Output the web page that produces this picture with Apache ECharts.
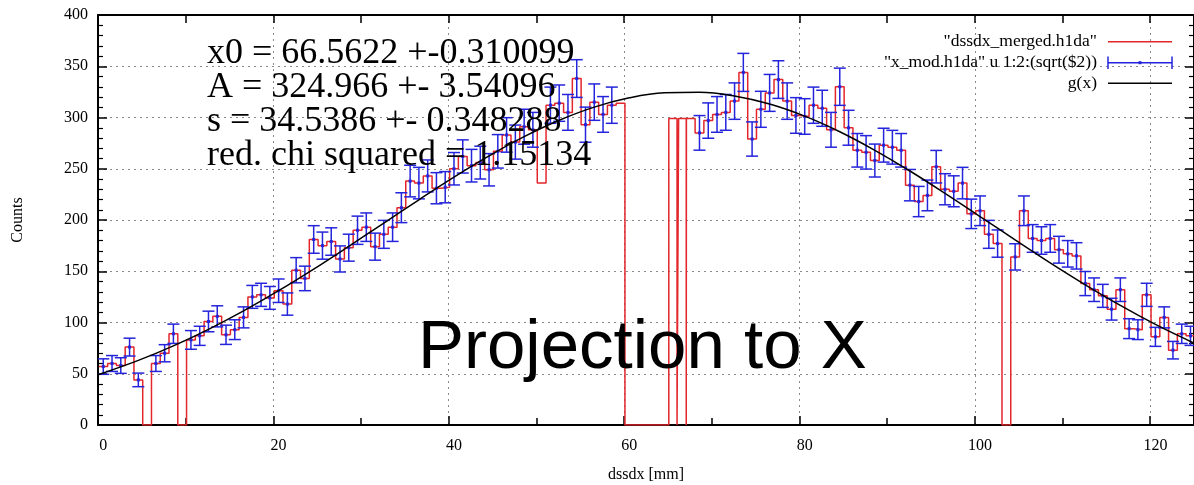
<!DOCTYPE html>
<html><head><meta charset="utf-8">
<script src="https://cdn.jsdelivr.net/npm/echarts@6/dist/echarts.min.js"></script>
<style>html,body{margin:0;padding:0;background:#fff;}#c{width:1194px;height:485px;}</style>
</head><body><div id="c"></div>
<script>
// ---------------- data ----------------
const binX = [0,1,2,3,4,5,6,7,8,9,10,11,12,13,14,15,16,17,18,19,20,21,22,23,24,25,26,27,28,29,
  30,31,32,33,34,35,36,37,38,39,40,41,42,43,44,45,46,47,48,49,50,51,52,53,54,55,56,57,58,59,
  60,61,62,63,64,65,66,67,68,69,70,71,72,73,74,75,76,77,78,79,80,81,82,83,84,85,86,87,88,89,
  90,91,92,93,94,95,96,97,98,99,100,101,102,103,104,105,106,107,108,109,110,111,112,113,114,115,116,117,118,119,
  120,121,122,123,124];
const counts = [57,60,58,76,44,0,60,70,89,0,
  83,87,101,106,88,93,105,125,127,124,
  131,118,151,143,181,175,179,162,173,190,
  193,174,186,193,212,238,236,243,231,232,
  250,262,253,256,249,267,283,276,291,288,
  236,312,314,305,338,293,315,303,312,314,
  0,0,0,0,0,299,299,299,285,297,
  303,305,316,344,279,308,324,337,316,302,
  301,312,309,288,330,290,268,266,258,273,
  271,268,234,218,224,252,230,228,236,206,
  209,186,177,0,164,209,182,180,182,171,
  167,165,138,132,126,113,132,94,93,127,
  86,105,73,89,87];
// bins that are absent from the "x_mod" (error bar) file
const noErrorBins = [5,9,50,59,60,61,62,63,64,65,66,67,103];
// narrow zero dips drawn by the red histogram (x ranges, mm)
const redZeroDips = [[65.44,65.62],[66.49,66.51]];
// fitted curve g(x)
const fitX = [-0.6,0,4,8,12,16,20,24,28,32,36,40,44,48,52,56,60,64,68,72,76,80,84,88,92,96,100,104,108,112,116,120,124,124.4];
const fitY = [49.1,50.7,63.0,77.2,93.3,111.3,131.0,152.1,174.3,197.0,219.7,241.8,262.5,281.3,297.3,310.1,319.2,324.1,324.7,321.0,313.1,301.3,286.1,268.0,247.8,226.0,203.4,180.6,158.2,136.8,116.7,98.2,81.5,80.0];
const xTickLabels = [0,20,40,60,80,100,120];
const yTickLabels = [0,50,100,150,200,250,300,350,400];
const fitText = ['x0 = 66.5622 +-0.310099','A = 324.966 +- 3.54096','s = 34.5386 +- 0.348288','red. chi squared = 1.15134'];
const legendNames = ['"dssdx_merged.h1da"','"x_mod.h1da" u 1:2:(sqrt($2))','g(x)'];
const titleText = 'Projection to X';

// ---------------- build ----------------
const RED = '#e3262b', BLUE = '#2424dc', BLACK = '#000';
const binWidth = 1;
let segs = binX.map((x,i)=>[x-binWidth/2, x+binWidth/2, counts[i]]);
redZeroDips.forEach(([a,b])=>{
  const out=[];
  segs.forEach(s=>{
    const lo=Math.max(s[0],a), hi=Math.min(s[1],b);
    if (lo<hi) {
      if (lo>s[0]) out.push([s[0],lo,s[2]]);
      out.push([lo,hi,0]);
      if (hi<s[1]) out.push([hi,s[1],s[2]]);
    } else out.push(s);
  });
  segs=out;
});
const redPts = [];
segs.forEach(s=>{ redPts.push([s[0],s[2]]); redPts.push([s[1],s[2]]); });

const errData = [];
binX.forEach((x,i)=>{ if(!noErrorBins.includes(x)) errData.push([x, counts[i], Math.sqrt(counts[i])]); });
const fitPts = fitX.map((x,i)=>[x, fitY[i]]);

const XMIN=-0.6, XMAX=124.4;
const serif='"Liberation Serif","DejaVu Serif",serif';
const dotted={color:'#8a8a8a', width:1, type:[2,4]};
const axisLineStyle={show:true, onZero:false, lineStyle:{color:'#000', width:2}};

const chart = echarts.init(document.getElementById('c'), null, {renderer:'canvas'});
const option = {
  animation:false,
  backgroundColor:'#fff',
  grid:{left:98, right:0, top:15, bottom:60, containLabel:false, outerBoundsMode:'none'},
  xAxis:[
    {type:'value', min:XMIN, max:XMAX, interval:20, position:'bottom',
     axisLine:axisLineStyle,
     axisTick:{inside:true, length:9, lineStyle:{color:'#000', width:1.5}},
     axisLabel:{show:true, customValues:xTickLabels, color:'#000', fontFamily:serif, fontSize:16, margin:13,
       showMinLabel:true, showMaxLabel:true, hideOverlap:false},
     splitLine:{show:true, lineStyle:dotted},
     name:'dssdx [mm]', nameLocation:'middle', nameGap:42,
     nameTextStyle:{color:'#000', fontFamily:serif, fontSize:16}},
    {type:'value', min:XMIN, max:XMAX, interval:10, position:'bottom',
     axisLine:{show:false}, axisTick:{inside:true, length:7, lineStyle:{color:'#000', width:1.5}},
     axisLabel:{show:false}, splitLine:{show:false}},
    {type:'value', min:XMIN, max:XMAX, interval:10, position:'top',
     axisLine:axisLineStyle, axisTick:{inside:true, length:8, lineStyle:{color:'#000', width:1.5}},
     axisLabel:{show:false}, splitLine:{show:false}}
  ],
  yAxis:[
    {type:'value', min:yTickLabels[0], max:yTickLabels[yTickLabels.length-1], interval:50, position:'left',
     axisLine:axisLineStyle,
     axisTick:{inside:true, length:9, lineStyle:{color:'#000', width:1.5}},
     minorTick:{show:true, splitNumber:5, length:5, lineStyle:{color:'#000', width:1.2}},
     axisLabel:{color:'#000', fontFamily:serif, fontSize:16, margin:10},
     splitLine:{show:true, lineStyle:dotted},
     name:'Counts', nameLocation:'middle', nameGap:72,
     nameTextStyle:{color:'#000', fontFamily:serif, fontSize:16}},
    {type:'value', min:yTickLabels[0], max:yTickLabels[yTickLabels.length-1], interval:50, position:'right',
     axisLine:axisLineStyle,
     axisTick:{inside:true, length:9, lineStyle:{color:'#000', width:1.5}},
     minorTick:{show:true, splitNumber:5, length:5, lineStyle:{color:'#000', width:1.2}},
     axisLabel:{show:false}, splitLine:{show:false}}
  ],
  series:[
    {name:legendNames[0], type:'line', data:redPts, symbol:'none', clip:true, z:3,
     lineStyle:{color:RED, width:1.5}},
    {name:legendNames[1], type:'custom', data:errData, clip:true, z:4,
     encode:{x:0, y:1},
     renderItem:(params, api)=>{
       const x=api.value(0), y=api.value(1), e=api.value(2);
       const t=api.coord([x,y+e]), b=api.coord([x,y-e]), m=api.coord([x,y]);
       const hw=6, st={stroke:BLUE, lineWidth:1.5};
       return {type:'group', children:[
         {type:'line', shape:{x1:t[0],y1:t[1],x2:b[0],y2:b[1]}, style:st},
         {type:'line', shape:{x1:t[0]-hw,y1:t[1],x2:t[0]+hw,y2:t[1]}, style:st},
         {type:'line', shape:{x1:b[0]-hw,y1:b[1],x2:b[0]+hw,y2:b[1]}, style:st},
         {type:'rect', shape:{x:m[0]-1.5,y:m[1]-1.5,width:3,height:3}, style:{fill:BLUE}}
       ]};
     }},
    {name:legendNames[2], type:'line', data:fitPts, symbol:'none', smooth:0.4, clip:true, z:5,
     lineStyle:{color:BLACK, width:1.5}}
  ],
  graphic:[
    ...fitText.map((t,i)=>({type:'text', x:207, y:54+i*34, z:10,
       style:{text:t, font:'36px '+serif, fill:'#000', align:'left', verticalAlign:'middle'}})),
    {type:'text', x:418, y:349, z:10,
     style:{text:titleText, font:'69px "Liberation Sans","DejaVu Sans",sans-serif', fill:'#000', align:'left', verticalAlign:'middle'}},
    {type:'text', x:1097, y:41.7, z:10, style:{text:legendNames[0], font:'17.5px '+serif, fill:'#000', align:'right', verticalAlign:'middle'}},
    {type:'text', x:1097, y:62.7, z:10, style:{text:legendNames[1], font:'17.5px '+serif, fill:'#000', align:'right', verticalAlign:'middle'}},
    {type:'text', x:1097, y:83.3, z:10, style:{text:legendNames[2], font:'17.5px '+serif, fill:'#000', align:'right', verticalAlign:'middle'}},
    {type:'line', z:10, shape:{x1:1108,y1:41.7,x2:1172,y2:41.7}, style:{stroke:RED, lineWidth:1.5}},
    {type:'line', z:10, shape:{x1:1108,y1:62.7,x2:1172,y2:62.7}, style:{stroke:BLUE, lineWidth:1.5}},
    {type:'line', z:10, shape:{x1:1108,y1:56.5,x2:1108,y2:69}, style:{stroke:BLUE, lineWidth:1.5}},
    {type:'line', z:10, shape:{x1:1172,y1:56.5,x2:1172,y2:69}, style:{stroke:BLUE, lineWidth:1.5}},
    {type:'rect', z:10, shape:{x:1138.5,y:61.2,width:3,height:3}, style:{fill:BLUE}},
    {type:'line', z:10, shape:{x1:1108,y1:83.3,x2:1172,y2:83.3}, style:{stroke:BLACK, lineWidth:1.5}}
  ]
};
chart.setOption(option);
</script>
</body></html>
